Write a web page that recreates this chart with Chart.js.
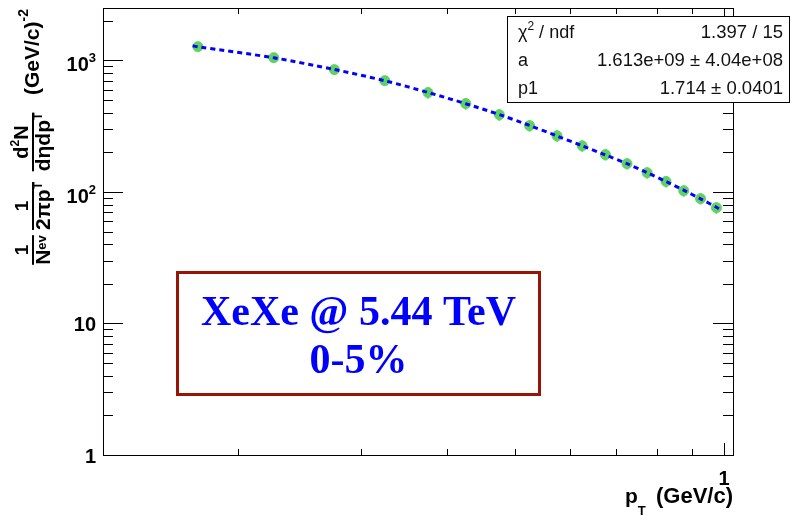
<!DOCTYPE html>
<html lang="en">
<head>
<meta charset="UTF-8">
<title>XeXe pT spectrum</title>
<script src="https://cdn.jsdelivr.net/npm/chart.js"></script>
<style>
  body { margin: 0; background: #fff; }
  canvas { display: block; }
</style>
</head>
<body>
<canvas id="spectrumChart" width="792" height="516"></canvas>
<script>
// values
const ptValues = [0.175, 0.225, 0.275, 0.325, 0.375, 0.425, 0.475, 0.525, 0.575,
                  0.625, 0.675, 0.725, 0.775, 0.825, 0.875, 0.925, 0.975];
const yieldValues = [1271, 1048, 850, 701, 569, 469, 386, 319, 267,
                     224, 192, 164, 140, 120, 102, 88.8, 75.8];
const yieldErrors = [40, 35, 30, 25, 57, 47, 39, 32, 27,
                     22, 19, 16, 14, 12, 10, 8.5, 7.5];
// fit curve (dashed)
const fitPt = [0.172, 0.175, 0.225, 0.275, 0.325, 0.375, 0.425, 0.475, 0.525, 0.575,
               0.625, 0.675, 0.725, 0.775, 0.825, 0.875, 0.925, 0.975, 0.99];
const fitYield = [1290, 1268, 1046, 852, 700, 570, 468, 387, 320, 266,
                  224, 191, 164, 140, 120, 103, 88.5, 76.5, 72.5];

const yTickValues = [1, 10, 100, 1000];
const yTickBase = ['1', '10', '10', '10'];
const yTickExp = ['', '', '2', '3'];
const xTickValues = [1];
const xTickLabels = ['1'];

const statsNames = ['ndf', 'a', 'p1'];
const statsValues = ['1.397 / 15', '1.613e+09 \u00b1 4.04e+08', '1.714 \u00b1 0.0401'];
const boxLines = ['XeXe @ 5.44 TeV', '0-5%'];

const FONT = '"Liberation Sans", Helvetica, Arial, sans-serif';
const GREEN = '#5fd35f';

// draws a row of text pieces [text, size, dy, weight]
function drawRich(ctx, parts, x, y, align) {
  let w = 0;
  parts.forEach(p => {
    ctx.font = (p[3] || 'bold') + ' ' + p[1] + 'px ' + FONT;
    p.w = ctx.measureText(p[0]).width;
    w += p.w;
  });
  let cx = align === 'right' ? x - w : align === 'center' ? x - w / 2 : x;
  parts.forEach(p => {
    ctx.font = (p[3] || 'bold') + ' ' + p[1] + 'px ' + FONT;
    ctx.fillText(p[0], cx, y + (p[2] || 0));
    cx += p.w;
  });
  return w;
}

function line(ctx, x1, y1, x2, y2) {
  ctx.beginPath();
  ctx.moveTo(x1, y1);
  ctx.lineTo(x2, y2);
  ctx.stroke();
}

// error bars under the markers
const errorBars = {
  id: 'errorBars',
  beforeDatasetsDraw(chart) {
    const { ctx, scales: { x, y } } = chart;
    ctx.save();
    ctx.strokeStyle = GREEN;
    ctx.lineWidth = 2;
    ptValues.forEach((pt, i) => {
      const px = x.getPixelForValue(pt);
      line(ctx, px, y.getPixelForValue(yieldValues[i] + yieldErrors[i]),
           px, y.getPixelForValue(yieldValues[i] - yieldErrors[i]));
    });
    ctx.restore();
  }
};

// ROOT style frame, ticks, labels, stats box and text box
const rootFrame = {
  id: 'rootFrame',
  afterDraw(chart) {
    const { ctx, chartArea: a, scales: { x, y } } = chart;
    ctx.save();
    ctx.strokeStyle = '#000';
    ctx.fillStyle = '#000';
    ctx.lineWidth = 1;
    ctx.strokeRect(a.left + 0.5, a.top + 0.5, a.right - a.left, a.bottom - a.top);

    // y ticks, both sides
    for (let d = 1; d <= 1000; d *= 10) {
      for (let m = 1; m <= 9; m++) {
        if (d * m > y.max) break;
        const py = Math.round(y.getPixelForValue(d * m)) + 0.5;
        const len = m === 1 ? 20 : 10;
        line(ctx, a.left, py, a.left + len, py);
        line(ctx, a.right, py, a.right - len, py);
      }
    }
    // x ticks, top and bottom
    for (let m = 2; m <= 10; m++) {
      const v = m / 10;
      const px = Math.round(x.getPixelForValue(v)) + 0.5;
      const len = m === 10 ? 12 : 6;
      line(ctx, px, a.bottom, px, a.bottom - len);
      line(ctx, px, a.top, px, a.top + len);
    }

    // y tick labels
    ctx.textBaseline = 'alphabetic';
    yTickValues.forEach((v, i) => {
      const py = y.getPixelForValue(v);
      if (yTickExp[i]) {
        drawRich(ctx, [[yTickBase[i], 20], [yTickExp[i], 13, -9]], 96, py + 11, 'right');
      } else {
        drawRich(ctx, [[yTickBase[i], 20]], 96, py + 8, 'right');
      }
    });
    // x tick labels
    xTickValues.forEach((v, i) => {
      drawRich(ctx, [[xTickLabels[i], 20]], x.getPixelForValue(v), 485, 'center');
    });

    // x title
    drawRich(ctx, [['(GeV/c)', 22]], 733, 503, 'right');
    drawRich(ctx, [['p', 21], ['T', 13, 12]], 625, 503, 'left');

    // y title, rotated
    ctx.save();
    ctx.translate(0, 516);
    ctx.rotate(-Math.PI / 2);
    const fractions = [
      { c: 266, num: [['1', 19]], den: [['N', 21], ['ev', 13, -4]] },
      { c: 310, num: [['1', 19]], den: [['2\u03c0p', 21], ['T', 12, -8]] },
      { c: 374, num: [['d', 20], ['2', 12, -9], ['N', 20]], den: [['d\u03b7dp', 21], ['T', 12, -8]] }
    ];
    fractions.forEach(f => {
      drawRich(ctx, f.num, f.c, 28, 'center');
      const w = drawRich(ctx, f.den, f.c, 50, 'center');
      ctx.fillRect(f.c - w / 2, 32, w, 2);
    });
    drawRich(ctx, [['(GeV/c)', 21], ['-2', 14, -11]], 421, 39, 'left');
    ctx.restore();

    // stats box
    ctx.fillStyle = '#fff';
    ctx.fillRect(507, 16, 284, 86);
    ctx.strokeRect(507.5, 16.5, 282, 86);
    ctx.fillStyle = '#111';
    statsNames.forEach((n, i) => {
      const by = 38 + i * 28;
      if (n === 'ndf') {
        drawRich(ctx, [['\u03c7', 18, 0, 'normal'], ['2', 12, -8, 'normal'], [' / ndf', 18, 0, 'normal']], 518, by, 'left');
      } else {
        drawRich(ctx, [[n, 18, 0, 'normal']], 518, by, 'left');
      }
      drawRich(ctx, [[statsValues[i], 18.5, 0, 'normal']], 783, by, 'right');
    });

    // collision system box
    ctx.fillStyle = '#fff';
    ctx.fillRect(177, 272, 363, 123);
    ctx.strokeStyle = '#9a1405';
    ctx.lineWidth = 3;
    ctx.strokeRect(177.5, 272.5, 362, 122);
    ctx.fillStyle = '#0000ff';
    ctx.font = 'bold 42px "Liberation Serif", "Times New Roman", serif';
    ctx.textAlign = 'center';
    ctx.fillText(boxLines[0], 358.5, 325);
    ctx.fillText(boxLines[1], 358.5, 373);
    ctx.restore();
  }
};

const ctx = document.getElementById('spectrumChart').getContext('2d');
const spectrumChart = new Chart(ctx, {
  type: 'scatter',
  data: {
    datasets: [{
      label: 'fit',
      data: fitPt.map((v, i) => ({ x: v, y: fitYield[i] })),
      showLine: true,
      borderColor: '#0000ff',
      borderWidth: 3,
      borderDash: [5, 4],
      pointRadius: 0,
      tension: 0.3,
      order: 0
    }, {
      label: 'data',
      data: ptValues.map((v, i) => ({ x: v, y: yieldValues[i] })),
      backgroundColor: GREEN,
      borderColor: GREEN,
      pointRadius: 5,
      order: 1
    }]
  },
  options: {
    responsive: false,
    animation: false,
    devicePixelRatio: 1,
    layout: { padding: { left: 103, top: 8, right: 59, bottom: 61 } },
    plugins: { legend: { display: false }, tooltip: { enabled: false } },
    scales: {
      x: { type: 'logarithmic', min: 0.1278, max: 1.03, display: false },
      y: { type: 'logarithmic', min: 1, max: 2500, display: false }
    }
  },
  plugins: [errorBars, rootFrame]
});
</script>
</body>
</html>
